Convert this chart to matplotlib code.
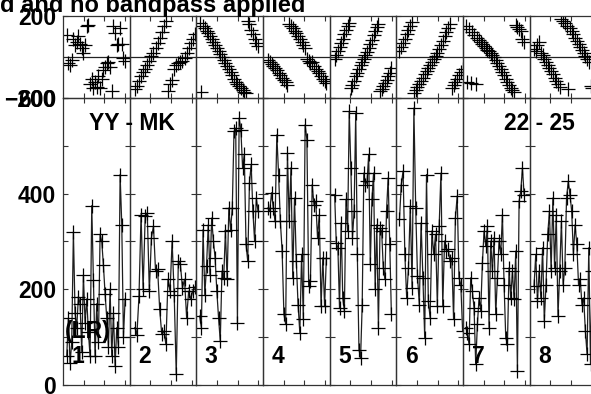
import numpy as np
import matplotlib.pyplot as plt

plt.rcParams['font.family'] = ['Liberation Sans', 'DejaVu Sans']
plt.rcParams['font.weight'] = 'bold'

# time range covered by each scan (hours from the start of its box)
seg_start = [0.18, 0.25, 0.16, 0.24, 0.24, 0.15, 0.13, 0.21]
seg_end = [3.00, 3.15, 2.98, 3.06, 2.98, 3.20, 2.95, 3.02]
seg_labels = ['1', '2', '3', '4', '5', '6', '7', '8']

amp_1 = [60, 140, 45, 90, 320, 150, 120, 185, 170, 70, 230, 130, 180, 110, 60, 375,
         220, 60, 170, 90, 315, 300, 250, 190, 140, 80, 200, 60, 150, 40, 120, 80,
         440, 335, 100, 180]
amp_2 = [120, 105, 186, 356, 200, 353, 360, 196, 308, 332, 238, 242, 158, 106, 113,
         85, 221, 196, 301, 189, 22, 259, 252, 203, 221, 141, 196, 180, 196, 205]
amp_3 = [144, 120, 325, 189, 248, 335, 231, 349, 301, 266, 196, 141, 92, 238, 224,
         322, 221, 370, 325, 370, 530, 537, 130, 558, 534, 454, 482, 294, 259, 422,
         461, 363, 301, 391, 363]
amp_4 = [370, 363, 402, 370, 342, 523, 440, 342, 280, 148, 127, 485, 342, 454, 224,
         391, 259, 168, 109, 273, 137, 544, 513, 207, 217, 419, 377, 384, 308, 356,
         165, 266, 165, 266]
amp_5 = [398, 297, 287, 161, 339, 182, 155, 388, 322, 572, 454, 308, 363, 569, 273,
         74, 57, 168, 443, 419, 426, 482, 252, 388, 443, 200, 335, 120, 328, 322,
         245, 221, 363, 433, 294, 148]
amp_6 = [346, 419, 447, 273, 182, 245, 374, 203, 579, 370, 228, 168, 339, 224, 99,
         440, 175, 141, 322, 273, 315, 165, 332, 443, 165, 301, 280, 284, 259, 266,
         137, 349, 395, 224, 210, 113]
amp_7 = [120, 109, 85, 224, 196, 161, 43, 127, 182, 155, 255, 322, 290, 332, 120,
         301, 238, 308, 148, 224, 301, 273, 356, 210, 99, 85, 245, 182, 238, 179,
         280, 29, 384, 405, 454, 398]
amp_8 = [207, 273, 175, 238, 182, 287, 134, 210, 315, 363, 238, 391, 245, 356, 144,
         238, 342, 210, 245, 391, 426, 398, 363, 273, 335, 294, 210, 221, 168, 182,
         113, 64, 287, 43, 238]

phs_1 = [108, -30, -40, -15, 90, 60, 75, 100, 65, 45, 20, 60, 150, 155, -130, -105,
         -150, -120, -145, -95, -150, -105, -65, -50, -30, -25, -50, -165, 150, 115,
         60, 65, 140, 65, -5, -20]
phs_2 = [-155, -140, -115, -95, -75, -60, -40, -20, 5, 20, 45, 70, 95, 120, 150, 175,
         -165, -130, -110, -60, -40, -30, -25, -20, -5, 20, 45, 70, 90, 110]
phs_3 = [165, -170, 150, 140, 125, 115, 100, 90, 75, 60, 45, 30, 15, 0, -15, -30,
         -45, -60, -75, -90, -105, -120, -130, -140, -150, -160, -170, -178, 175, 160,
         130, 110, 90, 70, 55]
phs_4 = [-15, -25, -35, -45, -55, -65, -80, -90, -100, -110, -120, -135, 160, 150,
         140, 128, 115, 100, 88, 75, 60, 45, -10, -20, -30, -25, -45, -60, -70, -80,
         -95, -105, -115, -125]
phs_5 = [-10, 10, 30, 50, 70, 90, 110, 130, 150, 165, -150, -135, -115, -95, -80, -60,
         -40, -25, -10, 10, 25, 45, 65, 85, 105, 125, 145, 160, -165, -155, -140, -125,
         -110, -95, -80, -55]
phs_6 = [30, 50, 70, 90, 110, 130, 150, 170, -175, -160, -145, -130, -115, -100, -85,
         -70, -55, -40, -25, -10, 5, 20, 40, 60, 80, 100, 120, 140, 160, -150, -135,
         -120, -105, -90, -75, -60]
phs_7 = [150, -120, 135, -125, 120, 105, -130, 95, 85, 75, 65, 55, 45, 35, 30, 20, 10,
         0, -15, -30, -45, -60, -75, -90, -105, -120, -135, -150, -160, -170, 155, 145,
         135, 125, 90, 75]
phs_8 = [40, 30, 60, 75, 20, 10, -10, -25, -40, -55, -70, -85, -100, -115, -130, -145,
         185, 175, 165, 150, -155, 140, 125, 110, 95, 80, 65, 50, 35, 20, 5, -10, -25,
         -140, -150]

amplitudes = [amp_1, amp_2, amp_3, amp_4, amp_5, amp_6, amp_7, amp_8]
phases = [phs_1, phs_2, phs_3, phs_4, phs_5, phs_6, phs_7, phs_8]

W, H = 591, 394
fig = plt.figure(figsize=(W / 100, H / 100), dpi=100)

box_left = 63       # px
box_width = 66.67   # px per scan box
box_len = 3.22      # hours shown per box
fs = 16.5
edge = '#333333'


def style_box(ax, first):
    for s in ax.spines.values():
        s.set_color(edge)
        s.set_linewidth(0.9)
    ax.set_facecolor('none')
    ax.set_xlim(0, box_len)
    ax.set_xticks([1, 2, 3])
    ax.tick_params(axis='x', direction='in', length=3.5, width=0.8, color=edge,
                   top=True, bottom=True, labelbottom=False)
    ax.tick_params(axis='y', direction='in', length=3.5, width=0.8, color=edge,
                   left=True, right=True, labelleft=first, labelsize=fs, pad=5)


for i in range(8):
    x0 = (box_left + i * box_width) / W
    w = box_width / W
    ax_p = fig.add_axes([x0, 1 - 98 / H, w, 82 / H])
    ax_a = fig.add_axes([x0, 1 - 385 / H, w, 287 / H])

    t = np.linspace(seg_start[i], seg_end[i], len(amplitudes[i]))
    tp = np.linspace(seg_start[i], seg_end[i], len(phases[i]))

    # phase box
    ax_p.axhline(0, color='#222222', lw=0.9)
    ax_p.plot(tp, phases[i], '+', color='black', ms=9.5, mew=0.9)
    ax_p.set_ylim(-200, 200)
    ax_p.set_yticks([-200, 200])
    style_box(ax_p, i == 0)

    # amplitude box
    ax_a.plot(t, amplitudes[i], '-', color='#1e1e1e', lw=0.9)
    ax_a.plot(t, amplitudes[i], '+', color='black', ms=9.5, mew=0.9)
    ax_a.set_ylim(0, 600)
    ax_a.set_yticks(range(0, 601, 100))
    ax_a.set_yticklabels(['0', '', '200', '', '400', '', '600'])
    style_box(ax_a, i == 0)

    ax_a.text(0.72, 60, seg_labels[i], ha='center', va='center', fontsize=fs,
              fontweight='bold')

    if i == 0:
        ax_a.text(1.21, 112, '(LR)', ha='center', va='center', fontsize=fs,
                  fontweight='bold')


def px(x, y):
    return x / W, 1 - y / H


fig.text(*px(131.7, 130.5), 'YY - MK', ha='center', va='baseline', fontsize=fs,
         fontweight='bold')
fig.text(*px(539, 130.5), '22 - 25', ha='center', va='baseline', fontsize=fs,
         fontweight='bold')
fig.text(*px(305, 12), 'ed and no bandpass applied', ha='right', va='baseline',
         fontsize=17, fontweight='bold')

fig.savefig('out.png', dpi=100, facecolor='white')
